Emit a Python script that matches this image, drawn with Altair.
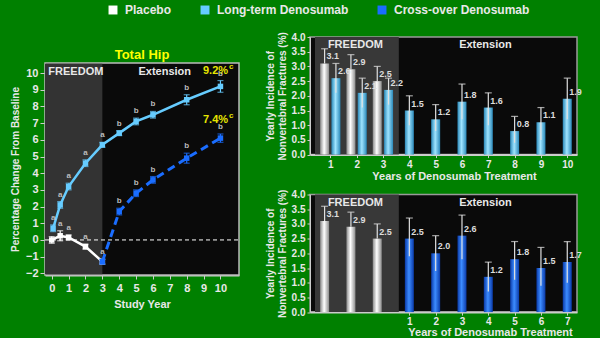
import altair as alt
import pandas as pd

FONT = "Liberation Sans"
TXT = "#e8e8e8"
GREEN = "#008000"

# ---------------- legend / series ----------------
series = ["Placebo", "Long-term Denosumab", "Cross-over Denosumab"]
colors = ["#ffffff", "#66ccff", "#1a6dff"]

# ---------------- left panel: Total hip BMD ----------------
plac_year = [0, 0.5, 1, 2, 3]
plac_bmd = [0.0, 0.25, 0.15, -0.4, -1.3]
plac_err = [0.2, 0.3, 0.15, 0.15, 0.15]
plac_sig = ["", "a", "a", "a", "a"]

lt_year = [0.08, 0.5, 1, 2, 3, 4, 5, 6, 8, 10]
lt_bmd = [0.7, 2.1, 3.2, 4.6, 5.7, 6.4, 7.1, 7.5, 8.4, 9.2]
lt_err = [0.2, 0.2, 0.2, 0.2, 0.15, 0.15, 0.2, 0.2, 0.3, 0.35]
lt_sig = ["a", "a", "a", "a", "a", "b", "b", "b", "b", "b"]

co_year = [3, 4, 5, 6, 8, 10]
co_bmd = [-1.3, 1.7, 2.8, 3.6, 4.9, 6.1]
co_err = [0.15, 0.2, 0.2, 0.2, 0.3, 0.25]
co_sig = ["", "b", "b", "b", "b", "b"]

end_text = ["9.2%", "7.4%"]
end_x = [10.45, 10.45]
end_y = [10.1, 7.2]

left_title = "Total Hip"
left_regions = ["FREEDOM", "Extension"]
left_region_x0 = [-0.4, 3]
left_region_x1 = [3, 11.1]
left_region_lbl_x = [-0.2, 6.7]
left_region_lbl_y = [10.05, 10.05]

# ---------------- right panels: nonvertebral fractures ----------------
fx_year = [1, 2, 3]
plac_nvf = [3.1, 2.9, 2.5]
plac_nvf_hi = [3.6, 3.4, 3.0]

lt_nvf_year = [1, 2, 3, 4, 5, 6, 7, 8, 9, 10]
lt_nvf = [2.6, 2.1, 2.2, 1.5, 1.2, 1.8, 1.6, 0.8, 1.1, 1.9]
lt_nvf_lo = [2.1, 1.6, 1.7, 1.0, 0.8, 1.2, 1.0, 0.4, 0.5, 1.2]
lt_nvf_hi = [3.1, 2.6, 2.6, 2.0, 1.7, 2.4, 2.1, 1.3, 1.6, 2.6]

co_nvf_year = [1, 2, 3, 4, 5, 6, 7]
co_nvf = [2.5, 2.0, 2.6, 1.2, 1.8, 1.5, 1.7]
co_nvf_lo = [1.9, 1.4, 1.8, 0.7, 1.1, 0.9, 1.0]
co_nvf_hi = [3.2, 2.6, 3.3, 1.7, 2.4, 2.2, 2.4]

right_regions = ["FREEDOM", "Extension"]
right_region_x0 = [0.415, 3.6]
right_region_x1 = [3.6, 10.18]
right_region_lbl_x = [1.95, 6.89]
right_region_lbl_y = [3.72, 3.72]

# =========================================================
# Left chart (frame spans -2.1..10.6; the view extends higher
# so that its top lines up with the right-hand panels)
# =========================================================
L_LO, L_HI, L_TOP = -2.1, 10.6, 12.16
lx = alt.Scale(domain=[-0.4, 11.1], nice=False, zero=False)
ly = alt.Scale(domain=[L_LO, L_TOP], nice=False, zero=False)


def LX(f, **kw):
    return alt.X(f, scale=lx, **kw)


def LY(f, **kw):
    return alt.Y(f, scale=ly, **kw)


ax_x_left = alt.Axis(values=list(range(0, 11)), tickCount=40, format="d", labelFontSize=11,
                     labelFontWeight="bold", labelColor=TXT, titleColor=TXT, titleFontSize=11,
                     titleFontWeight="bold", titlePadding=5, tickColor="#cccccc", domainColor="#cccccc",
                     domainWidth=2, tickSize=4, grid=False, labelPadding=3, labelOverlap=False)
ax_y_left = alt.Axis(values=list(range(-2, 11)), tickCount=40, format="d", labelFontSize=11,
                     labelFontWeight="bold", labelColor=TXT, titleColor=TXT, titleFontSize=10,
                     titleFontWeight="bold", titlePadding=5, tickColor="#cccccc", domain=False,
                     labelPadding=2, tickSize=5, grid=False, titleY=132, labelOverlap=False)

reg_l = pd.DataFrame({"name": left_regions, "x0": left_region_x0, "x1": left_region_x1,
                      "lx": left_region_lbl_x, "ly": left_region_lbl_y})
frame_df = pd.DataFrame({"x0": [left_region_x0[0]], "x1": [left_region_x1[1]],
                         "y0": [L_LO], "y1": [L_HI], "t": [left_title]})

left_layers = []
left_layers.append(alt.Chart(frame_df).mark_rect(fill="#0a0a0a", stroke="#bbbbbb", strokeWidth=1.5).encode(
    x=LX("x0:Q", title="Study Year", axis=ax_x_left), x2="x1:Q",
    y=LY("y0:Q", title="Percentage Change From Baseline", axis=ax_y_left), y2="y1:Q"))
left_layers.append(alt.Chart(reg_l.iloc[:1]).mark_rect(color="#333333").encode(
    x=LX("x0:Q"), x2="x1:Q",
    y=alt.Y(datum=L_LO + 0.05, scale=ly), y2=alt.Y2(datum=L_HI - 0.05)))
left_layers.append(alt.Chart(reg_l.iloc[:1]).mark_rule(color="#ffffff", strokeDash=[4, 3], strokeWidth=1).encode(
    x=LX("x0:Q"), x2=alt.X2(datum=11.1),
    y=alt.Y(datum=0, scale=ly)))
left_layers.append(alt.Chart(reg_l.iloc[:1]).mark_text(
    align="left", baseline="middle", font=FONT, fontSize=11, fontWeight="bold", color=TXT).encode(
    x=LX("lx:Q"), y=LY("ly:Q"), text="name:N"))
left_layers.append(alt.Chart(reg_l.iloc[1:]).mark_text(
    align="center", baseline="middle", font=FONT, fontSize=11, fontWeight="bold", color=TXT).encode(
    x=LX("lx:Q"), y=LY("ly:Q"), text="name:N"))
left_layers.append(alt.Chart(frame_df).mark_text(
    align="center", baseline="middle", font=FONT, fontSize=13, fontWeight="bold", color="#ffff00", dy=-8).encode(
    x=alt.X(datum=5.35, scale=lx), y=LY("y1:Q"), text="t:N"))

specs = [
    (series[0], colors[0], plac_year, plac_bmd, plac_err, plac_sig, None),
    (series[1], colors[1], lt_year, lt_bmd, lt_err, lt_sig, None),
    (series[2], colors[2], co_year, co_bmd, co_err, co_sig, [8, 5]),
]
for name, col, yrs, vals, errs, sigs, dash in specs:
    df = pd.DataFrame({"series": name, "year": yrs, "bmd": vals, "err": errs, "sig": sigs})
    base = alt.Chart(df).transform_calculate(lo="datum.bmd - datum.err", hi="datum.bmd + datum.err")
    line_kw = dict(color=col, strokeWidth=3 if dash else 2.5)
    if dash:
        line_kw["strokeDash"] = dash
    left_layers.append(base.mark_line(**line_kw).encode(x=LX("year:Q"), y=LY("bmd:Q")))
    left_layers.append(base.mark_rule(color=col, strokeWidth=1.2).encode(
        x=LX("year:Q"), y=LY("lo:Q"), y2="hi:Q"))
    for f in ["lo", "hi"]:
        left_layers.append(base.mark_tick(color=col, orient="horizontal", size=6, thickness=1.2).encode(
            x=LX("year:Q"), y=LY(f + ":Q")))
    left_layers.append(base.mark_point(shape="square", filled=True, size=30, opacity=1, color=col).encode(
        x=LX("year:Q"), y=LY("bmd:Q")))
    left_layers.append(base.mark_text(font=FONT, fontSize=8, fontWeight="bold", color="#bbbbbb",
                                      baseline="bottom", dy=-3).encode(
        x=LX("year:Q"), y=LY("hi:Q"), text="sig:N"))

end_df = pd.DataFrame({"t": end_text, "x": end_x, "y": end_y})
left_layers.append(alt.Chart(end_df).mark_text(align="right", baseline="middle", font=FONT, fontSize=11,
                                               fontWeight="bold", color="#e6e600").encode(
    x=LX("x:Q"), y=LY("y:Q"), text="t:N"))
left_layers.append(alt.Chart(end_df).mark_text(align="left", baseline="middle", font=FONT, fontSize=8,
                                               fontWeight="bold", color="#e6e600", dx=1, dy=-4).encode(
    x=LX("x:Q"), y=LY("y:Q"), text=alt.value("c")))

left = alt.layer(*left_layers).properties(
    width=194, height=238,
    view=alt.ViewBackground(stroke="transparent"),
)

# =========================================================
# Right charts
# =========================================================
rx = alt.Scale(domain=[0.415, 10.18], nice=False, zero=False)
ry = alt.Scale(domain=[0, 4], nice=False, zero=False)


def grad(edge, mid):
    return alt.LinearGradient(gradient="linear", x1=0, x2=1, y1=0, y2=0,
                              stops=[alt.GradientStop(color=edge, offset=0),
                                     alt.GradientStop(color=mid, offset=0.45),
                                     alt.GradientStop(color=edge, offset=1)])


def bars(df, fill, offset):
    base = alt.Chart(df).transform_calculate(pos=f"datum.year + {offset}")
    X = alt.X("pos:Q", scale=rx)
    out = [base.mark_bar(size=9, color=fill).encode(x=X, y=alt.Y("v:Q", scale=ry))]
    out.append(base.mark_rule(color="#e0e0e0", strokeWidth=1.2).encode(
        x=X, y=alt.Y("lo:Q", scale=ry), y2="hi:Q"))
    out.append(base.mark_tick(color="#e0e0e0", orient="horizontal", size=7, thickness=1.2).encode(
        x=X, y=alt.Y("hi:Q", scale=ry)))
    out.append(base.mark_text(align="left", baseline="middle", dx=2, dy=-7, font=FONT, fontSize=9,
                              fontWeight="bold", color="#dddddd").encode(
        x=X, y=alt.Y("v:Q", scale=ry), text=alt.Text("v:Q", format=".1f")))
    return out


def right_chart(extra_bar_sets, xvals, label_expr, title_x, label_pad, title_pad):
    reg = pd.DataFrame({"name": right_regions, "x0": right_region_x0, "x1": right_region_x1,
                        "lx": right_region_lbl_x, "ly": right_region_lbl_y, "y0": [0, 0], "y1": [4, 4]})
    layers = [
        alt.Chart(reg.iloc[:1]).mark_rect(color="#383838").encode(
            x=alt.X("x0:Q", scale=rx, title="Years of Denosumab Treatment",
                    axis=alt.Axis(values=xvals, tickCount=40, labelExpr=label_expr, labelFontSize=10,
                                  labelFontWeight="bold", labelColor=TXT, titleColor=TXT, titleFontSize=11,
                                  titleFontWeight="bold", titleX=title_x, titlePadding=title_pad,
                                  tickColor="#cccccc", domainColor="#cccccc", domainWidth=2, tickSize=3,
                                  grid=False, labelPadding=label_pad, labelOverlap=False)),
            x2="x1:Q",
            y=alt.Y("y0:Q", scale=ry, title=["Yearly Incidence of", "Nonvertebral Fractures (%)"],
                    axis=alt.Axis(values=[0, 0.5, 1, 1.5, 2, 2.5, 3, 3.5, 4], tickCount=40, format=".1f",
                                  labelFontSize=10, labelFontWeight="bold", labelColor=TXT, titleColor=TXT,
                                  titleFontSize=10, titleFontWeight="bold", titlePadding=4,
                                  tickColor="#cccccc", domainColor="#cccccc", tickSize=3, grid=False,
                                  labelPadding=2, labelOverlap=False)),
            y2="y1:Q"),
        alt.Chart(reg).mark_text(baseline="middle", font=FONT, fontSize=11, fontWeight="bold",
                                 color=TXT).encode(
            x=alt.X("lx:Q", scale=rx), y=alt.Y("ly:Q", scale=ry), text="name:N"),
    ]
    pdf = pd.DataFrame({"year": fx_year, "v": plac_nvf, "lo": plac_nvf, "hi": plac_nvf_hi})
    layers += bars(pdf, grad("#8c8c8c", "#ffffff"), -0.22)
    for df, fill, off in extra_bar_sets:
        layers += bars(df, fill, off)
    return alt.layer(*layers).properties(
        width=267, height=117.6,
        view=alt.ViewBackground(fill="#0a0a0a", stroke="#9a9a9a", strokeWidth=1.5))


lt_df = pd.DataFrame({"year": lt_nvf_year, "v": lt_nvf, "lo": lt_nvf_lo, "hi": lt_nvf_hi})
co_df = pd.DataFrame({"year": co_nvf_year, "v": co_nvf, "lo": co_nvf_lo, "hi": co_nvf_hi})
lt_fill = grad("#2a88b8", "#9fe4ff")
co_fill = grad("#0a3aa8", "#3d8cff")

rtop = right_chart([(lt_df[lt_df.year <= 3], lt_fill, 0.21), (lt_df[lt_df.year > 3], lt_fill, 0)],
                   list(range(1, 11)), "datum.value", 144, 2, 1)
rbot = right_chart([(co_df, co_fill, 3)], list(range(4, 11)), "datum.value - 3", 180, 1, 0)

# ---------------- legend row ----------------
legend_row = alt.Chart(pd.DataFrame({"series": series})).mark_point(
    shape="square", filled=True, opacity=0).encode(
    color=alt.Color("series:N", scale=alt.Scale(domain=series, range=colors),
                    legend=alt.Legend(title=None, orient="none", direction="horizontal",
                                      legendX=62, legendY=0, symbolType="square", symbolSize=80,
                                      symbolStrokeWidth=0, symbolOpacity=1, labelFontSize=12,
                                      labelFontWeight="bold", labelColor=TXT, labelFont=FONT,
                                      columnPadding=27, labelOffset=6, padding=0)),
).properties(width=1, height=1, view=alt.ViewBackground(stroke="transparent"))

chart = alt.vconcat(
    legend_row,
    alt.hconcat(
        left,
        alt.vconcat(rtop, rbot, spacing=4.5),
        spacing=23,
    ),
    spacing=22,
).configure(
    background=GREEN, font=FONT, padding={"left": 9, "top": 1, "right": 17, "bottom": 0}
)

chart.save("out.html", embed_options={"renderer": "svg", "actions": False})
